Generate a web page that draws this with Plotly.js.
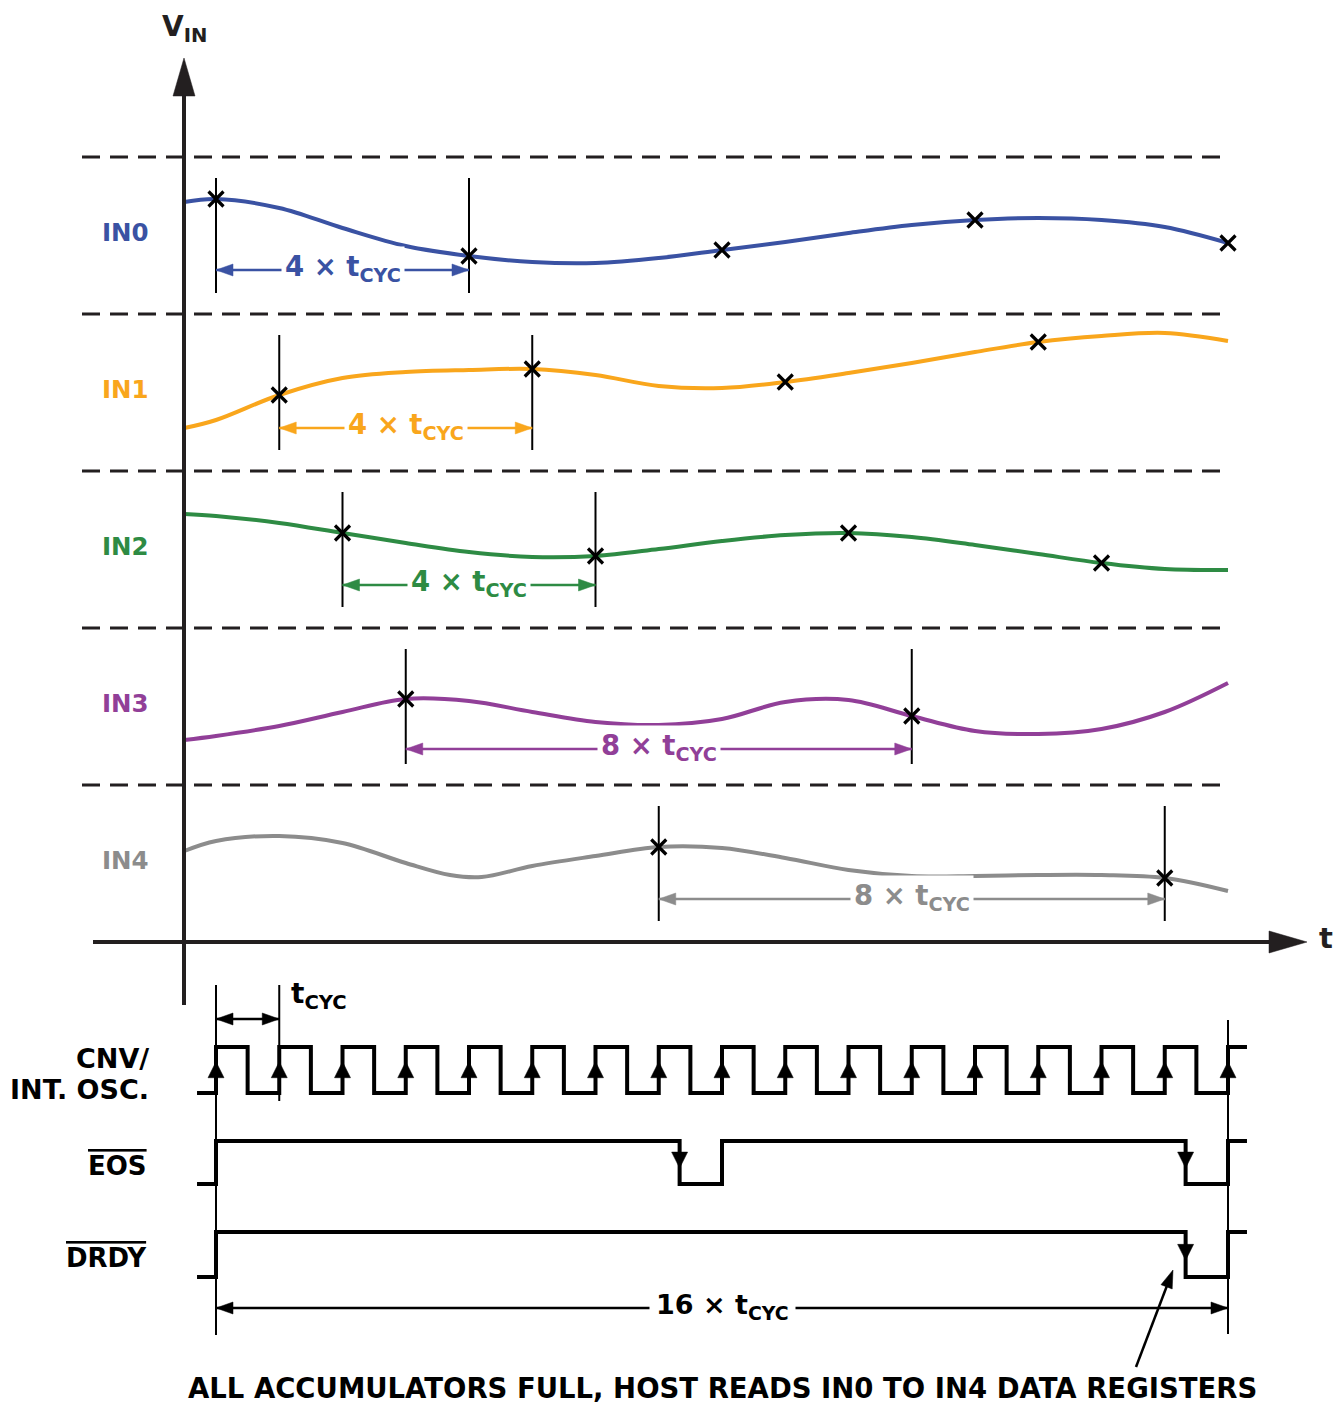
<!DOCTYPE html>
<html><head><meta charset="utf-8">
<script src="https://cdn.plot.ly/plotly-3.0.1.min.js"></script>
<style>html,body{margin:0;padding:0;background:#fff}</style>
</head><body>
<div id="chart" style="width:1336px;height:1405px"></div>
<script>
// ================= DATA (time in units of tCYC, voltage in arbitrary units) =================
const channelNames = ['IN0', 'IN1', 'IN2', 'IN3', 'IN4'];
const channelColors = ['#3a52a3', '#f9a61c', '#2e8b44', '#913f98', '#8c8c8c'];

const in0T = [-0.5, 0, 1, 2, 3, 4, 5, 6, 7, 8, 9, 10, 11, 12, 13, 14, 15, 16];
const in0V = [740, 743, 734, 714, 696, 686, 680, 679, 684, 692, 700, 709, 717, 722, 724, 722, 715, 699];

const in1T = [-0.5, 0, 1, 2, 3, 4, 5, 6, 7, 8, 9, 10, 11, 12, 13, 14, 15, 16];
const in1V = [514, 522, 547, 564, 570, 572, 573, 567, 556, 554, 560, 569, 579, 590, 600, 606, 609, 601];

const in2T = [-0.5, 0, 1, 2, 3, 4, 5, 6, 7, 8, 9, 10, 11, 12, 13, 14, 15, 16];
const in2V = [428, 426, 419, 409, 399, 390, 385, 386, 393, 401, 407, 409, 405, 397, 388, 379, 373, 372];

const in3T = [-0.5, 0, 1, 2, 3, 4, 5, 6, 7, 8, 9, 10, 11, 12, 13, 14, 15, 16];
const in3V = [202, 206, 216, 230, 243, 241, 230, 220, 217, 223, 240, 242, 226, 211, 208, 213, 230, 259];

const in4T = [-0.5, 0, 1, 2, 3, 3.7, 4.2, 5, 6, 7, 8, 9, 10, 11, 12, 13, 14, 15, 16];
const in4V = [91, 101, 106, 99, 79, 67, 65, 76, 86, 95, 94, 84, 72, 66, 66, 67, 67, 64, 51];

// sampling instants (x marks) for each channel
const in0Samples = [0, 4, 8, 12, 16];
const in1Samples = [1, 5, 9, 13];
const in2Samples = [2, 6, 10, 14];
const in3Samples = [3, 11];
const in4Samples = [7, 15];

// averaging span for each channel [start, end] and its label
const spanStart = [0, 1, 2, 3, 7];
const spanEnd = [4, 5, 6, 11, 15];
const spanLabels = ['4 × t<sub>CYC</sub>', '4 × t<sub>CYC</sub>', '4 × t<sub>CYC</sub>', '8 × t<sub>CYC</sub>', '8 × t<sub>CYC</sub>'];

// digital signals (edge times in tCYC, logic level after each edge)
const cnvT = [-0.3, 0, 0.5, 1, 1.5, 2, 2.5, 3, 3.5, 4, 4.5, 5, 5.5, 6, 6.5, 7, 7.5, 8, 8.5, 9, 9.5, 10, 10.5, 11, 11.5, 12, 12.5, 13, 13.5, 14, 14.5, 15, 15.5, 16, 16.3];
const cnvL = [0, 1, 0, 1, 0, 1, 0, 1, 0, 1, 0, 1, 0, 1, 0, 1, 0, 1, 0, 1, 0, 1, 0, 1, 0, 1, 0, 1, 0, 1, 0, 1, 0, 1, 1];
const eosT = [-0.3, 0, 7.33, 8, 15.33, 16, 16.3];
const eosL = [0, 1, 0, 1, 0, 1, 1];
const drdyT = [-0.3, 0, 15.33, 16, 16.3];
const drdyL = [0, 1, 0, 1, 1];
const cnvRiseEdges = [0, 1, 2, 3, 4, 5, 6, 7, 8, 9, 10, 11, 12, 13, 14, 15, 16];
const eosFallEdges = [7.33, 15.33];
const drdyFallEdges = [15.33];

// ================= LAYOUT HELPERS =================
const W = 1336, H = 1405;
const T_PX = 63.25, T0_PX = 216, V_TOP = 942;
const px2t = p => (p - T0_PX) / T_PX;
const py2v = p => V_TOP - p;
const LANE = 157;
const laneBottom = [4 * LANE, 3 * LANE, 2 * LANE, LANE, 0];
const dimOffset = [44, 43, 43, 36, 43];
const INK = '#231f20';
const FONT = 'DejaVu Sans, Liberation Sans, Arial, sans-serif';

const chT = [in0T, in1T, in2T, in3T, in4T];
const chV = [in0V, in1V, in2V, in3V, in4V];
const chS = [in0Samples, in1Samples, in2Samples, in3Samples, in4Samples];

const shapes = [];
const annotations = [];
const traces = [];

function line(x0, y0, x1, y1, color, width, dash) {
  shapes.push({type: 'line', xref: 'x', yref: 'y', x0, y0, x1, y1,
    line: {color, width, dash: dash || 'solid'}, layer: 'above'});
}
// filled arrow head: tip at (t, v); direction given in screen pixels (dx right, dy up)
function head(t, v, dx, dy, len, hw, color) {
  const n = Math.hypot(dx, dy), ux = dx / n, uy = dy / n;
  const bx = -ux * len, by = -uy * len;
  const px = -uy * hw, py = ux * hw;
  const f = x => x.toFixed(2);
  shapes.push({type: 'path', xref: 'x', yref: 'y', xsizemode: 'pixel', ysizemode: 'pixel',
    xanchor: t, yanchor: v,
    path: `M0,0 L${f(bx + px)},${f(by + py)} L${f(bx - px)},${f(by - py)} Z`,
    fillcolor: color, line: {color, width: 0.5}, layer: 'above'});
}
function dimArrow(ta, tb, v, color, width, len, hw) {
  line(ta, v, tb, v, color, width);
  head(ta, v, -1, 0, len, hw, color);
  head(tb, v, 1, 0, len, hw, color);
}
function text(t, v, txt, size, color, xanchor, extra) {
  annotations.push(Object.assign({xref: 'x', yref: 'y', x: t, y: v, text: txt, showarrow: false,
    xanchor: xanchor || 'center', yanchor: 'middle',
    font: {family: FONT, size, color, weight: 700}}, extra || {}));
}

// dashed lane separators
for (let k = 1; k <= 5; k++) line(px2t(82), k * LANE, px2t(1225), k * LANE, INK, 3, '18px,10px');

// main axes
line(px2t(93), 0, px2t(1272), 0, INK, 4);
head(px2t(1307), 0, 1, 0, 38, 11, INK);
line(px2t(184), py2v(1005), px2t(184), py2v(94), INK, 4);
head(px2t(184), py2v(58), 0, 1, 38, 11, INK);
text(px2t(184), py2v(28), 'V<sub>IN</sub>', 28, INK);
text(px2t(1326), py2v(938), 't', 29, INK);

// analog channels
for (let c = 0; c < 5; c++) {
  const col = channelColors[c];
  traces.push({type: 'scatter', mode: 'lines', x: chT[c], y: chV[c],
    line: {color: col, width: 4, shape: 'spline', smoothing: 1}, hoverinfo: 'skip'});
  const sx = [], sy = [];
  chS[c].forEach(s => { const i = chT[c].indexOf(s); sx.push(chT[c][i]); sy.push(chV[c][i]); });
  traces.push({type: 'scatter', mode: 'markers', x: sx, y: sy,
    marker: {symbol: 'x-thin', size: 15, line: {color: '#000', width: 3.2}}, hoverinfo: 'skip'});
  const lb = laneBottom[c];
  [spanStart[c], spanEnd[c]].forEach(t => line(t, lb + 21, t, lb + LANE - 21, '#000', 2));
  const vd = lb + dimOffset[c];
  dimArrow(spanStart[c], spanEnd[c], vd, col, 2.5, 17, 6);
  text((spanStart[c] + spanEnd[c]) / 2, vd + 2, spanLabels[c], 27.5, col, 'center',
    {bgcolor: '#ffffff', borderpad: 3});
  text(px2t(125), lb + LANE / 2 + 3, channelNames[c], 24.5, col);
}

// digital signals
const cnvHi = py2v(1047), cnvLo = py2v(1093);
const eosHi = py2v(1141), eosLo = py2v(1184);
const drHi = py2v(1232), drLo = py2v(1277);
const lv = (arr, lo, hi) => arr.map(l => lo + l * (hi - lo));
traces.push({type: 'scatter', mode: 'lines', x: cnvT, y: lv(cnvL, cnvLo, cnvHi),
  line: {color: '#000', width: 4, shape: 'hv'}, hoverinfo: 'skip'});
traces.push({type: 'scatter', mode: 'lines', x: eosT, y: lv(eosL, eosLo, eosHi),
  line: {color: '#000', width: 4, shape: 'hv'}, hoverinfo: 'skip'});
traces.push({type: 'scatter', mode: 'lines', x: drdyT, y: lv(drdyL, drLo, drHi),
  line: {color: '#000', width: 4, shape: 'hv'}, hoverinfo: 'skip'});
cnvRiseEdges.forEach(t => head(t, cnvLo + 0.68 * (cnvHi - cnvLo), 0, 1, 16, 8, '#000'));
eosFallEdges.forEach(t => head(t, eosLo + 0.37 * (eosHi - eosLo), 0, -1, 16, 8, '#000'));
drdyFallEdges.forEach(t => head(t, drLo + 0.37 * (drHi - drLo), 0, -1, 16, 8, '#000'));

// timing reference lines and arrows
line(0, py2v(985), 0, py2v(1335), '#000', 2);
line(1, py2v(985), 1, py2v(1101), '#000', 2);
line(16, py2v(1020), 16, py2v(1334), '#000', 2);
dimArrow(0, 1, py2v(1019), '#000', 2.5, 17, 6);
text(px2t(289), py2v(995), 't<sub>CYC</sub>', 28, '#000', 'left');
dimArrow(0, 16, py2v(1308), '#000', 2.5, 17, 6);
text(8, py2v(1306), '16 × t<sub>CYC</sub>', 27, '#000', 'center', {bgcolor: '#ffffff', borderpad: 6});

// pointer arrow to DRDY falling edge
line(px2t(1136), py2v(1367), px2t(1168), py2v(1283), '#000', 2.5);
head(px2t(1173), py2v(1270), 37, 97, 18, 6, '#000');

// signal names
text(px2t(151), py2v(1058), 'CNV/', 27, '#000', 'right');
text(px2t(151), py2v(1089), 'INT. OSC.', 27, '#000', 'right');
text(px2t(149), py2v(1166), '<span style="text-decoration:overline">EOS</span>', 26, '#000', 'right');
text(px2t(149), py2v(1258), '<span style="text-decoration:overline">DRDY</span>', 26, '#000', 'right');
text(px2t(722), py2v(1388), 'ALL ACCUMULATORS FULL, HOST READS IN0 TO IN4 DATA REGISTERS', 27.5, '#000');

const layout = {
  width: W, height: H,
  margin: {l: 0, r: 0, t: 0, b: 0, pad: 0},
  paper_bgcolor: '#ffffff', plot_bgcolor: '#ffffff',
  showlegend: false,
  xaxis: {range: [px2t(0), px2t(W)], visible: false, fixedrange: true},
  yaxis: {range: [py2v(H), py2v(0)], visible: false, fixedrange: true},
  shapes, annotations,
  font: {family: FONT}
};
Plotly.newPlot('chart', traces, layout, {displayModeBar: false, staticPlot: true});
</script>
</body></html>
